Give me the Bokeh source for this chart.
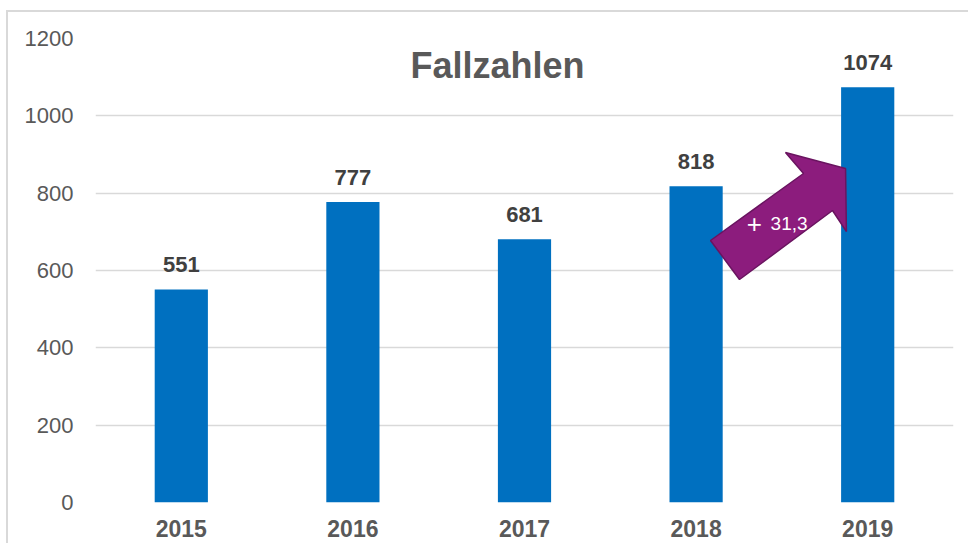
from bokeh.plotting import figure
from bokeh.layouts import column
from bokeh.models import (ColumnDataSource, FactorRange, Range1d, LabelSet, Label,
                          FixedTicker)
from bokeh.core.properties import value
from bokeh.embed import file_html
from bokeh.resources import INLINE

# ---- data ----
years = ["2015", "2016", "2017", "2018", "2019"]
cases = [551, 777, 681, 818, 1074]
y_ticks = [0, 200, 400, 600, 800, 1000, 1200]
title_text = "Fallzahlen"
growth_text = "31,3"

FONT = "Liberation Sans"
BAR_COLOR = "#0070C0"
W, H = 960, 531

p = figure(width=W, height=H, output_backend="svg", toolbar_location=None,
           x_range=FactorRange(*years, range_padding=0),
           y_range=Range1d(0, 1200),
           min_border_left=87, min_border_right=15, min_border_top=26, min_border_bottom=41)
p.outline_line_color = None
p.background_fill_color = "white"
p.border_fill_color = "white"

src = ColumnDataSource(dict(years=years, cases=cases, lbl=[str(c) for c in cases]))
p.vbar(x="years", top="cases", width=0.31, source=src, fill_color=BAR_COLOR, line_color=None)

# grid
p.xgrid.grid_line_color = None
p.ygrid.grid_line_color = "#d9d9d9"
p.ygrid.grid_line_width = 1.5
p.yaxis.ticker = FixedTicker(ticks=y_ticks)

for ax in (p.xaxis, p.yaxis):
    ax.axis_line_color = None
    ax.major_tick_line_color = None
    ax.minor_tick_line_color = None
    ax.major_tick_out = 0
    ax.major_tick_in = 0
    ax.minor_tick_out = 0
    ax.major_label_text_font = FONT
    ax.major_label_text_color = "#595959"

p.yaxis.major_label_text_font_size = "22px"
p.yaxis.major_label_standoff = 22
p.xaxis.major_label_text_font_size = "23px"
p.xaxis.major_label_text_font_style = "bold"
p.xaxis.major_label_standoff = 17

# value labels
labels = LabelSet(x="years", y="cases", text="lbl", source=src, y_offset=17,
                  text_align="center", text_baseline="alphabetic",
                  text_font=value(FONT), text_font_size="22px", text_font_style="bold",
                  text_color="#404040")
p.add_layout(labels)

# growth arrow between the last two bars (shape in synthetic x / value units)
i0 = years.index("2018")
arrow_dx = [0.084, 0.626, 0.521, 0.871, 0.876, 0.795, 0.253]
arrow_dv = [677.6, 850.9, 905.2, 863.8, 700.9, 755.2, 576.7]
p.patch([i0 + 0.5 + d for d in arrow_dx], arrow_dv,
        fill_color="#8C1C7D", line_color="#6A1460", line_width=1.5)

p.add_layout(Label(x=i0 + 0.84, y=721, text="+", text_align="center",
                   text_baseline="alphabetic", text_font=FONT, text_font_size="26px",
                   text_color="white"))
p.add_layout(Label(x=i0 + 0.934, y=721, text=growth_text, text_align="left",
                   text_baseline="alphabetic", text_font=FONT, text_font_size="19px",
                   text_color="white"))

# title inside the plot area
p.add_layout(Label(x=2.343, y=1130, text=title_text, text_align="center",
                   text_baseline="alphabetic", text_font=FONT, text_font_size="36px",
                   text_font_style="bold", text_color="#595959"))

# outer chart frame (only left/top edges are visible in the window)
layout = column(p, margin=(10, 0, 0, 6),
                styles={"border-left": "2px solid #d9d9d9",
                        "border-top": "2px solid #d9d9d9"})

open("out.html", "w").write(file_html(layout, INLINE))
